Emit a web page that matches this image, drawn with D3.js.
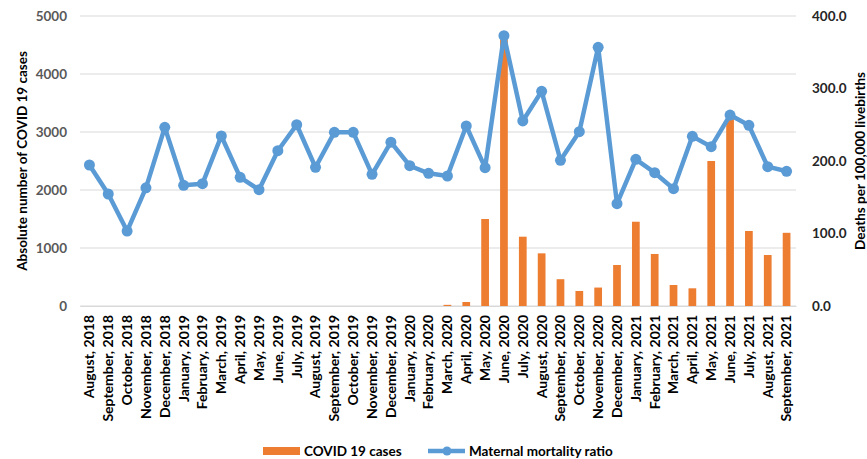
<!DOCTYPE html>
<html>
<head>
<meta charset="utf-8">
<script src="https://cdn.jsdelivr.net/npm/d3@7"></script>
<style>
  html, body { margin: 0; padding: 0; background: #fff; }
  svg text { font-family: Lato, "Open Sans", sans-serif; font-weight: bold; }
</style>
</head>
<body>
<div id="chart"></div>
<script>
// Monthly data, August 2018 .. September 2021
const months = [
  'August, 2018', 'September, 2018', 'October, 2018', 'November, 2018', 'December, 2018',
  'January, 2019', 'February, 2019', 'March, 2019', 'April, 2019', 'May, 2019', 'June, 2019',
  'July, 2019', 'August, 2019', 'September, 2019', 'October, 2019', 'November, 2019',
  'December, 2019', 'January, 2020', 'February, 2020', 'March, 2020', 'April, 2020',
  'May, 2020', 'June, 2020', 'July, 2020', 'August, 2020', 'September, 2020',
  'October, 2020', 'November, 2020', 'December, 2020', 'January, 2021', 'February, 2021',
  'March, 2021', 'April, 2021', 'May, 2021', 'June, 2021', 'July, 2021', 'August, 2021',
  'September, 2021'
];

const covidCases = [
  0, 0, 0, 0, 0, 0, 0, 0, 0, 0, 0, 0, 0, 0, 0, 0, 0, 0, 0, 20, 69,
  1500, 4600, 1195, 908, 462, 259, 318, 707, 1453, 897, 362, 305, 2500, 3240, 1293, 879, 1262
];

const mmr = [
  194.5, 154.5, 103.4, 163, 246.4, 166.5, 168.7, 234.5, 177.5, 160.4, 214.2, 250,
  191.3, 239.5, 239.5, 181.6, 226, 193.5, 183, 179.3, 248.3, 190.8, 372.8, 255.2,
  296.1, 201, 240.4, 356.8, 141.1, 202.3, 183.9, 161.8, 234, 219.7, 263.4, 249.2,
  192.2, 185.8
];

const leftTicks = [0, 1000, 2000, 3000, 4000, 5000];
const rightTicks = [0, 100, 200, 300, 400];

const W = 867, H = 459;
const margin = { top: 16, right: 71, bottom: 153, left: 80 };
const BAR_COLOR = '#ED7D31';
const LINE_COLOR = '#5B9BD5';

const svg = d3.select('#chart').append('svg')
  .attr('width', W)
  .attr('height', H);

const x = d3.scaleBand()
  .domain(months)
  .range([margin.left, W - margin.right]);

const yLeft = d3.scaleLinear().domain([0, 5000]).range([H - margin.bottom, margin.top]);
const yRight = d3.scaleLinear().domain([0, 400]).range([H - margin.bottom, margin.top]);

// gridlines
svg.append('g')
  .selectAll('line')
  .data(leftTicks)
  .join('line')
  .attr('x1', margin.left)
  .attr('x2', W - margin.right)
  .attr('y1', (d) => yLeft(d))
  .attr('y2', (d) => yLeft(d))
  .attr('stroke', '#d9d9d9')
  .attr('stroke-width', 1);

// left axis
const leftAxis = svg.append('g')
  .attr('transform', `translate(${margin.left},0)`)
  .call(d3.axisLeft(yLeft).tickValues(leftTicks).tickSize(0).tickPadding(13).tickFormat(d3.format('d')));
leftAxis.select('.domain').remove();
leftAxis.selectAll('text').attr('fill', '#595959').style('font-size', '13.5px');

// right axis
const rightAxis = svg.append('g')
  .attr('transform', `translate(${W - margin.right},0)`)
  .call(d3.axisRight(yRight).tickValues(rightTicks).tickSize(0).tickPadding(16).tickFormat(d3.format('.1f')));
rightAxis.select('.domain').remove();
rightAxis.selectAll('text').attr('fill', '#262626').style('font-size', '13.5px');

// bottom axis (rotated labels)
const bottomAxis = svg.append('g')
  .attr('transform', `translate(0,${H - margin.bottom})`)
  .call(d3.axisBottom(x).tickSize(0).tickPadding(0));
bottomAxis.select('.domain').attr('stroke', '#d9d9d9');
bottomAxis.selectAll('text')
  .attr('fill', '#000')
  .style('font-size', '14px')
  .attr('text-anchor', 'end')
  .attr('dy', '0.35em')
  .attr('transform', 'translate(0,9) rotate(-90)')
  .attr('x', 0)
  .attr('y', 0);

// bars
const barW = x.bandwidth() * 0.41;
svg.append('g')
  .selectAll('rect')
  .data(covidCases)
  .join('rect')
  .attr('x', (d, i) => x(months[i]) + (x.bandwidth() - barW) / 2)
  .attr('y', (d) => yLeft(d))
  .attr('width', barW)
  .attr('height', (d) => yLeft(0) - yLeft(d))
  .attr('fill', BAR_COLOR);

// line + markers
const cx = (i) => x(months[i]) + x.bandwidth() / 2;
const line = d3.line()
  .x((d, i) => cx(i))
  .y((d) => yRight(d));

svg.append('path')
  .datum(mmr)
  .attr('d', line)
  .attr('fill', 'none')
  .attr('stroke', LINE_COLOR)
  .attr('stroke-width', 4.5)
  .attr('stroke-linejoin', 'round');

svg.append('g')
  .selectAll('circle')
  .data(mmr)
  .join('circle')
  .attr('cx', (d, i) => cx(i))
  .attr('cy', (d) => yRight(d))
  .attr('r', 5.5)
  .attr('fill', LINE_COLOR);

// axis titles
svg.append('text')
  .attr('transform', `translate(22,${(margin.top + H - margin.bottom) / 2}) rotate(-90)`)
  .attr('text-anchor', 'middle')
  .attr('dy', '0.35em')
  .style('font-size', '13.5px')
  .attr('fill', '#000')
  .text('Absolute number of COVID 19 cases');

svg.append('text')
  .attr('transform', `translate(860,${(margin.top + H - margin.bottom) / 2}) rotate(-90)`)
  .attr('text-anchor', 'middle')
  .attr('dy', '0.35em')
  .style('font-size', '13.5px')
  .attr('fill', '#000')
  .text('Deaths per 100,000 livebirths');

// legend
const legend = svg.append('g').attr('transform', 'translate(0,451)');
legend.append('rect')
  .attr('x', 263).attr('y', -4).attr('width', 37).attr('height', 8)
  .attr('fill', BAR_COLOR);
legend.append('text')
  .attr('x', 304).attr('y', 0).attr('dy', '0.35em')
  .style('font-size', '13.5px').attr('fill', '#000')
  .text('COVID 19 cases');
legend.append('line')
  .attr('x1', 428).attr('x2', 465).attr('y1', 0).attr('y2', 0)
  .attr('stroke', LINE_COLOR).attr('stroke-width', 4.5);
legend.append('circle')
  .attr('cx', 447).attr('cy', 0).attr('r', 4.5).attr('fill', LINE_COLOR);
legend.append('text')
  .attr('x', 469).attr('y', 0).attr('dy', '0.35em')
  .style('font-size', '13.5px').attr('fill', '#000')
  .text('Maternal mortality ratio');
</script>
</body>
</html>
